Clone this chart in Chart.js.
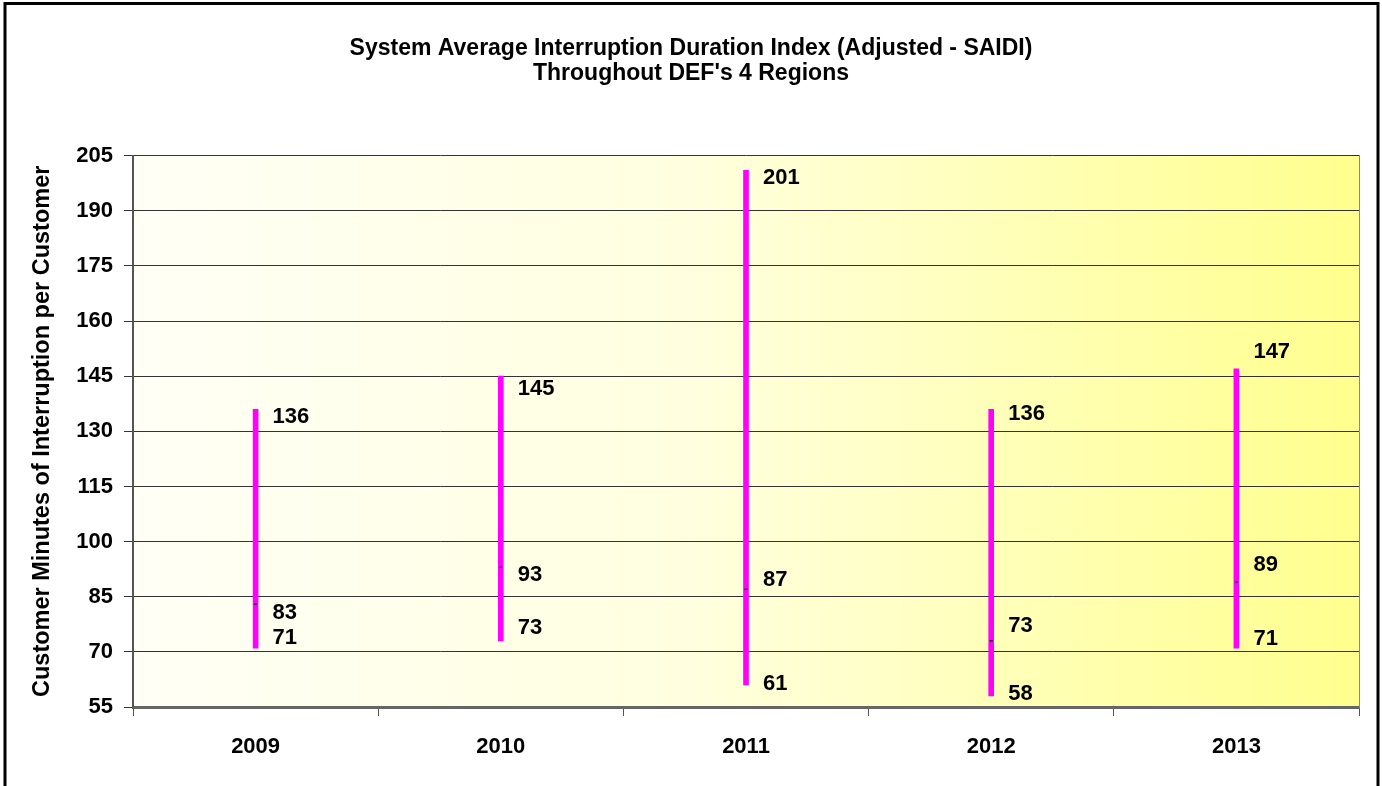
<!DOCTYPE html>
<html>
<head>
<meta charset="utf-8">
<script src="https://cdn.jsdelivr.net/npm/chart.js@4.4.1/dist/chart.umd.min.js"></script>
<style>
  html, body { margin: 0; padding: 0; background: #fff; overflow: hidden; }
  canvas { display: block; }
</style>
</head>
<body>
<canvas id="c" width="1382" height="786"></canvas>
<script>
const years = ['2009', '2010', '2011', '2012', '2013'];
const highs = [136, 145, 201, 136, 147];
const averages = [83, 93, 87, 73, 89];
const lows = [71, 73, 61, 58, 71];
const yTicks = [55, 70, 85, 100, 115, 130, 145, 160, 175, 190, 205];

// vertical nudge (px) of each value label relative to its mark
const nudgeHigh = [8, 13, 8, 5, -17];
const nudgeAvg = [9, 8, -9, -15, -17];
const nudgeLow = [-10, -13, -1, -2, -9];

const FONT = '"Liberation Sans", Arial, Helvetica, sans-serif';

// pale-to-yellow wash behind the plot
const plotBackground = {
  id: 'plotBackground',
  beforeDraw(chart) {
    const { ctx, chartArea: a } = chart;
    const g = ctx.createLinearGradient(a.left, 0, a.right, 0);
    g.addColorStop(0, '#FFFFF6');
    g.addColorStop(0.45, '#FFFFE0');
    g.addColorStop(1, '#FFFF8E');
    ctx.save();
    ctx.fillStyle = g;
    ctx.fillRect(a.left, a.top, a.right - a.left, a.bottom - a.top);
    ctx.restore();
  }
};

// black frame round the whole chart
const outerFrame = {
  id: 'outerFrame',
  afterDraw(chart) {
    const { ctx } = chart;
    ctx.save();
    ctx.strokeStyle = '#000';
    ctx.lineWidth = 3;
    ctx.strokeRect(5, 3.5, 1373, 790);
    ctx.restore();
  }
};

// high / average / low numbers beside each bar
const valueLabels = {
  id: 'valueLabels',
  afterDatasetsDraw(chart) {
    const { ctx, scales: { x, y } } = chart;
    ctx.save();
    ctx.font = 'bold 22px ' + FONT;
    ctx.fillStyle = '#000';
    ctx.textAlign = 'left';
    ctx.textBaseline = 'middle';
    years.forEach((yr, i) => {
      const px = x.getPixelForValue(i) + 17;
      ctx.fillText(String(highs[i]), px, y.getPixelForValue(highs[i]) + nudgeHigh[i]);
      ctx.fillText(String(averages[i]), px, y.getPixelForValue(averages[i]) + nudgeAvg[i]);
      ctx.fillText(String(lows[i]), px, y.getPixelForValue(lows[i]) + nudgeLow[i]);
    });
    ctx.restore();
  }
};

new Chart(document.getElementById('c'), {
  type: 'bar',
  data: {
    labels: years,
    datasets: [
      {
        type: 'line',
        label: 'Average',
        data: averages,
        showLine: false,
        pointStyle: 'line',
        pointRadius: 1.5,
        pointBorderColor: '#111',
        pointBorderWidth: 1.5,
        order: 0
      },
      {
        type: 'bar',
        label: 'Range',
        data: lows.map((lo, i) => [lo, highs[i]]),
        backgroundColor: '#FF00FF',
        borderWidth: 0,
        borderSkipped: false,
        barThickness: 5,
        order: 1
      }
    ]
  },
  options: {
    responsive: false,
    animation: false,
    devicePixelRatio: 1,
    layout: { padding: { left: 0, right: 0, top: 0, bottom: 0 } },
    plugins: {
      legend: { display: false },
      tooltip: { enabled: false },
      title: {
        display: true,
        text: ['System Average Interruption Duration Index (Adjusted - SAIDI)', "Throughout DEF's 4 Regions"],
        color: '#000',
        font: { family: FONT, size: 23, weight: 'bold', lineHeight: 1.1 },
        padding: { top: 36, bottom: 69 }
      }
    },
    scales: {
      x: {
        type: 'category',
        offset: true,
        grid: { offset: true, drawOnChartArea: false, drawTicks: true, tickLength: 9, color: '#555', lineWidth: 1 },
        border: { color: '#666', width: 3 },
        ticks: { color: '#000', font: { family: FONT, size: 22, weight: 'bold' }, padding: 18 },
        afterFit(s) { s.height = 79; }
      },
      y: {
        min: 55,
        max: 205,
        afterBuildTicks(s) { s.ticks = yTicks.map(v => ({ value: v })); },
        grid: { color: '#333', lineWidth: 1, tickLength: 9 },
        border: { color: '#555', width: 2 },
        ticks: { color: '#000', font: { family: FONT, size: 22, weight: 'bold' }, padding: 11 },
        title: {
          display: true,
          text: 'Customer Minutes of Interruption per Customer',
          color: '#000',
          font: { family: FONT, size: 23.5, weight: 'bold', lineHeight: 1.2 },
          padding: { top: 28, bottom: 0 }
        },
        afterFit(s) { s.width = 133; }
      },
      y2: {
        position: 'right',
        min: 55,
        max: 205,
        grid: { drawOnChartArea: false, drawTicks: false },
        border: { color: '#888', width: 1 },
        ticks: { display: false },
        afterFit(s) { s.width = 23; }
      }
    }
  },
  plugins: [plotBackground, valueLabels, outerFrame]
});
</script>
</body>
</html>
